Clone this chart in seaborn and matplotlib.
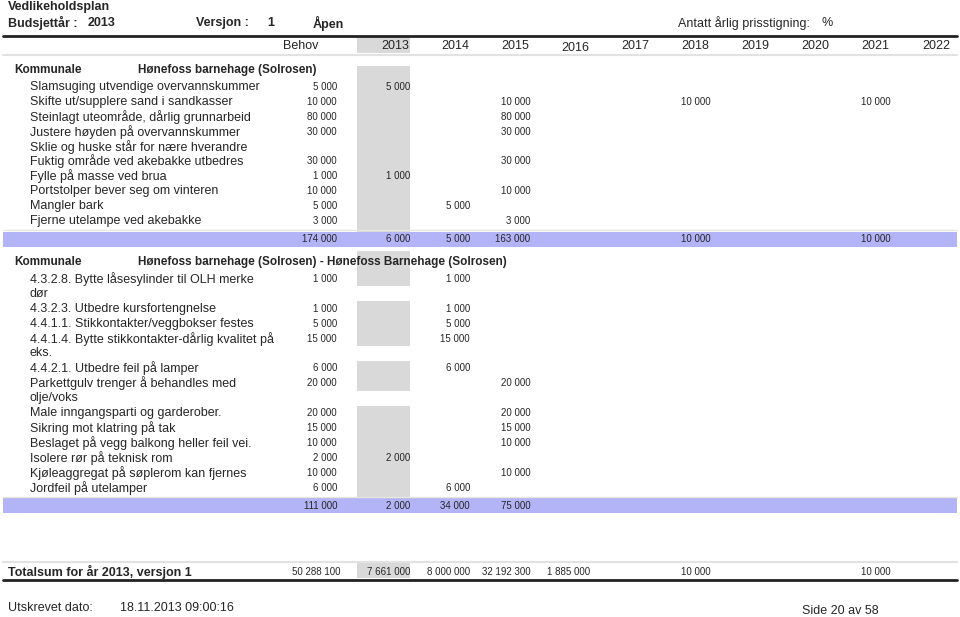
import matplotlib
matplotlib.use('Agg')
import matplotlib.pyplot as plt
import seaborn as sns

sns.set_theme(style='white')
plt.rcParams['font.family'] = ['Liberation Sans', 'DejaVu Sans']

# ---- data ----
years = ['2013', '2014', '2015', '2016', '2017', '2018', '2019', '2020', '2021', '2022']

s1_title = 'Hønefoss barnehage (Solrosen)'
s1_items = ['Slamsuging utvendige overvannskummer',
            'Skifte ut/supplere sand i sandkasser',
            'Steinlagt uteområde, dårlig grunnarbeid',
            'Justere høyden på overvannskummer',
            'Sklie og huske står for nære hverandre',
            'Fuktig område ved akebakke utbedres',
            'Fylle på masse ved brua',
            'Portstolper bever seg om vinteren',
            'Mangler bark',
            'Fjerne utelampe ved akebakke']
s1_behov = [5000, 10000, 80000, 30000, None, 30000, 1000, 10000, 5000, 3000]
s1_plan = [{'2013': 5000},
           {'2015': 10000, '2018': 10000, '2021': 10000},
           {'2015': 80000},
           {'2015': 30000},
           {},
           {'2015': 30000},
           {'2013': 1000},
           {'2015': 10000},
           {'2014': 5000},
           {'2015': 3000}]

s2_title = 'Hønefoss barnehage (Solrosen) - Hønefoss Barnehage (Solrosen)'
s2_items = ['4.3.2.8. Bytte låsesylinder til OLH merke\ndør',
            '4.3.2.3. Utbedre kursfortengnelse',
            '4.4.1.1. Stikkontakter/veggbokser festes',
            '4.4.1.4. Bytte stikkontakter-dårlig kvalitet på\neks.',
            '4.4.2.1. Utbedre feil på lamper',
            'Parkettgulv trenger å behandles med\nolje/voks',
            'Male inngangsparti og garderober.',
            'Sikring mot klatring på tak',
            'Beslaget på vegg balkong heller feil vei.',
            'Isolere rør på teknisk rom',
            'Kjøleaggregat på søplerom kan fjernes',
            'Jordfeil på utelamper']
s2_behov = [1000, 1000, 5000, 15000, 6000, 20000, 20000, 15000, 10000, 2000, 10000, 6000]
s2_plan = [{'2014': 1000}, {'2014': 1000}, {'2014': 5000}, {'2014': 15000},
           {'2014': 6000}, {'2015': 20000}, {'2015': 20000}, {'2015': 15000},
           {'2015': 10000}, {'2013': 2000}, {'2015': 10000}, {'2014': 6000}]

grand_behov = 50288100
grand_years = {'2013': 7661000, '2014': 8000000, '2015': 32192300, '2016': 1885000,
               '2018': 10000, '2021': 10000}

# ---- layout ----
W, H = 960, 617
col_right = {'Behov': 337}
for i, y in enumerate(years):
    col_right[y] = 410 + 60.1 * i
grey_x0, grey_x1 = 357, 410
step = 14.9
band_color = '#b3b3f7'
grey_color = '#d9d9d9'
num_fs = 7
txt_fs = 9


def fmt(v):
    return f'{v:,}'.replace(',', ' ')


fig = plt.figure(figsize=(W / 100, H / 100), dpi=100)
ax = fig.add_axes([0, 0, 1, 1])
ax.set_xlim(0, W)
ax.set_ylim(H, 0)
ax.axis('off')

# page header
ax.text(8, 7, 'Vedlikeholdsplan', fontsize=9, fontweight='bold', va='center')
ax.text(8, 23, 'Budsjettår :', fontsize=9, fontweight='bold', va='center')
ax.text(88, 23, '2013', fontsize=9, fontweight='bold', va='center')
ax.text(196, 23, 'Versjon :', fontsize=9, fontweight='bold', va='center')
ax.text(267, 23, '1', fontsize=9, fontweight='bold', va='center')
ax.text(313, 23, 'Åpen', fontsize=9, fontweight='bold', va='center')
ax.text(678, 23, 'Antatt årlig prisstigning:', fontsize=9, va='center')
ax.text(821, 23, '%', fontsize=9, va='center')
ax.plot([3, 957], [36, 36], color='#222222', lw=2)

# column header
ax.add_patch(plt.Rectangle((grey_x0, 37), grey_x1 - grey_x0, 16, color=grey_color, lw=0))
ax.text(318, 46, 'Behov', fontsize=txt_fs, ha='right', va='center')
for y in years:
    dy = 2 if y == '2016' else 0
    ax.text(col_right[y] - 1, 46 + dy, y, fontsize=txt_fs, ha='right', va='center')
ax.plot([3, 957], [54.5, 54.5], color='#e2e2e2', lw=1.5)


def draw_section(title, items, behov, plan, head_y, head_top, first_y):
    ax.text(14, head_y, 'Kommunale', fontsize=8.5, fontweight='bold', va='center')
    ax.text(138, head_y, title, fontsize=8.5, fontweight='bold', va='center')
    grey_spans = [(head_top, first_y - step / 2)]
    y = first_y
    totals = {'Behov': 0}
    for label, b, p in zip(items, behov, plan):
        lines = label.split('\n')
        grey_spans.append((y - step / 2, y + step / 2))
        for k, ln in enumerate(lines):
            ax.text(30, y + k * step, ln, fontsize=txt_fs, va='center')
        if b is not None:
            ax.text(col_right['Behov'], y, fmt(b), fontsize=num_fs, ha='right', va='center')
            totals['Behov'] += b
        for yr, v in p.items():
            ax.text(col_right[yr], y, fmt(v), fontsize=num_fs, ha='right', va='center')
            totals[yr] = totals.get(yr, 0) + v
        y += step * len(lines)
    band_top = y - step / 2 + 3
    grey_spans[-1] = (grey_spans[-1][0], band_top)
    for a, b in grey_spans:
        ax.add_patch(plt.Rectangle((grey_x0, a), grey_x1 - grey_x0, b - a,
                                   color=grey_color, lw=0, zorder=0))
    ax.plot([3, 957], [band_top - 1.5, band_top - 1.5], color='#e6e6dc', lw=1)
    ax.add_patch(plt.Rectangle((3, band_top), 954, 15, color=band_color, lw=0))
    for key, v in totals.items():
        ax.text(col_right[key], band_top + 7.5, fmt(v), fontsize=num_fs,
                ha='right', va='center')


draw_section(s1_title, s1_items, s1_behov, s1_plan, 70, 66, 87)
draw_section(s2_title, s2_items, s2_behov, s2_plan, 262, 251, 279)

# grand total
ax.plot([3, 957], [562, 562], color='#e2e2e2', lw=1.5)
ax.add_patch(plt.Rectangle((grey_x0, 563), grey_x1 - grey_x0, 15, color=grey_color, lw=0))
ax.text(8, 572, 'Totalsum for år 2013, versjon 1', fontsize=9, fontweight='bold', va='center')
ax.text(col_right['Behov'] + 3, 572, fmt(grand_behov), fontsize=num_fs, ha='right', va='center')
for yr, v in grand_years.items():
    ax.text(col_right[yr], 572, fmt(v), fontsize=num_fs, ha='right', va='center')
ax.plot([3, 957], [580, 580], color='#222222', lw=2)

# footer
ax.text(8, 608, 'Utskrevet dato:', fontsize=9, va='center')
ax.text(120, 608, '18.11.2013 09:00:16', fontsize=9, va='center')
ax.text(802, 611, 'Side 20 av 58', fontsize=9, va='center')

fig.savefig('out.png', dpi=100)
